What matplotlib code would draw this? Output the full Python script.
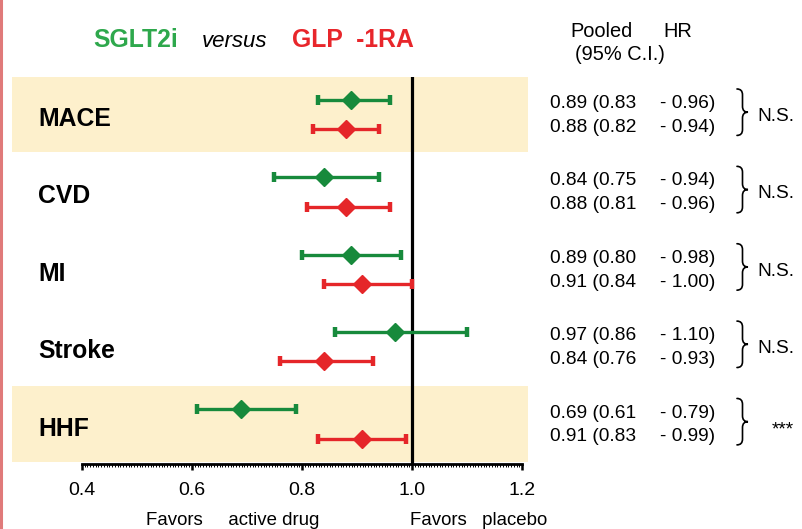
"""
Forest plot: SGLT2i versus GLP-1RA (pooled HR, 95% C.I.) por desenlace.
"""

import numpy as np
import matplotlib
matplotlib.use("Agg")
import matplotlib.pyplot as plt
from matplotlib import font_manager, transforms
from matplotlib.lines import Line2D
from matplotlib.patches import PathPatch
from matplotlib.path import Path
from matplotlib.ticker import FixedLocator


# ---------------------------------------------------------------------------
# Datos
# ---------------------------------------------------------------------------

outcomes = ["MACE", "CVD", "MI", "Stroke", "HHF"]
shaded = [True, False, False, False, True]

sglt2_hr = [0.89, 0.84, 0.89, 0.97, 0.69]
sglt2_lo = [0.83, 0.75, 0.80, 0.86, 0.61]
sglt2_hi = [0.96, 0.94, 0.98, 1.10, 0.79]

glp1_hr = [0.88, 0.88, 0.91, 0.84, 0.91]
glp1_lo = [0.82, 0.81, 0.84, 0.76, 0.83]
glp1_hi = [0.94, 0.96, 1.00, 0.93, 0.99]

significance = ["N.S.", "N.S.", "N.S.", "N.S.", "***"]

x_ticks = [0.4, 0.6, 0.8, 1.0, 1.2]
x_tick_labels = ["0.4", "0.6", "0.8", "1.0", "1.2"]


# ---------------------------------------------------------------------------
# Estilo
# ---------------------------------------------------------------------------

GREEN = "#178a3c"
RED = "#e52629"
GREEN_TITLE = "#2ea84c"
RED_TITLE = "#e8262b"
BAND = "#fdf0cc"


def _has_font(name):
    try:
        font_manager.findfont(font_manager.FontProperties(family=name),
                              fallback_to_default=False)
        return True
    except ValueError:
        return False


REG = "Liberation Sans" if _has_font("Liberation Sans") else "DejaVu Sans"
if _has_font("Liberation Sans Narrow"):
    BOLD, bold_scale = "Liberation Sans Narrow", 1.0
else:
    BOLD, bold_scale = REG, 0.87

plt.rcParams["font.family"] = [REG, "DejaVu Sans"]


def draw_brace(ax, x0, yc, half, width, lw=1.2):
    # llave "}" simple con curvas cuadráticas
    xm = x0 + width / 2.0
    r = half * 0.25
    verts = [
        (x0, yc - half),
        (xm, yc - half), (xm, yc - half + r),
        (xm, yc - r),
        (xm, yc), (x0 + width, yc),
        (xm, yc), (xm, yc + r),
        (xm, yc + half - r),
        (xm, yc + half), (x0, yc + half),
    ]
    codes = [Path.MOVETO,
             Path.CURVE3, Path.CURVE3,
             Path.LINETO,
             Path.CURVE3, Path.CURVE3,
             Path.CURVE3, Path.CURVE3,
             Path.LINETO,
             Path.CURVE3, Path.CURVE3]
    ax.add_patch(PathPatch(Path(verts, codes), fill=False, lw=lw,
                           edgecolor="black", capstyle="round"))


# ---------------------------------------------------------------------------
# Figura
# ---------------------------------------------------------------------------

W, H = 803, 529
fig = plt.figure(figsize=(W / 100, H / 100), dpi=100)

ax_bottom = (H - 464) / H
ax_height = (464 - 77) / H
ax = fig.add_axes([12 / W, ax_bottom, 516 / W, ax_height])

ylim = (4.517, -0.485)
ax.set_xlim(0.4 - 70 / 550, 1.2 + 6 / 550)
ax.set_ylim(*ylim)

rows = np.arange(len(outcomes))
off = 0.19

for i, sh in enumerate(shaded):
    if sh:
        ax.axhspan(i - 0.485, i + 0.485, color=BAND, lw=0, zorder=0)

ax.axvline(1.0, color="black", lw=2.3, zorder=2)

for hr, lo, hi, dy, col in [
    (sglt2_hr, sglt2_lo, sglt2_hi, -off, GREEN),
    (glp1_hr, glp1_lo, glp1_hi, off, RED),
]:
    hr = np.array(hr)
    ax.errorbar(hr, rows + dy,
                xerr=[hr - np.array(lo), np.array(hi) - hr],
                fmt="D", color=col, ms=8.8, elinewidth=2.4,
                capsize=3.3, capthick=3.2, zorder=3)

# etiquetas de fila
lab_tr = transforms.blended_transform_factory(ax.transAxes, ax.transData)
for i, name in enumerate(outcomes):
    ax.text(26 / 516, i + 0.15, name, transform=lab_tr,
            fontsize=20.5 * bold_scale, fontweight="bold", family=BOLD,
            ha="left", va="baseline")

# eje x
for s in ("top", "left", "right"):
    ax.spines[s].set_visible(False)
ax.spines["bottom"].set_bounds(0.4, 1.2)
ax.spines["bottom"].set_linewidth(2)
ax.set_yticks([])
ax.set_xticks(x_ticks)
ax.set_xticklabels(x_tick_labels)
ax.xaxis.set_minor_locator(FixedLocator(np.arange(0.4, 1.2001, 0.005)))
ax.tick_params(axis="x", which="major", length=4.5, width=1.8,
               pad=8.5, labelsize=14)
ax.tick_params(axis="x", which="minor", length=2, width=0.7)

# ---------------------------------------------------------------------------
# Tabla a la derecha
# ---------------------------------------------------------------------------

ax2 = fig.add_axes([528 / W, ax_bottom, (W - 528) / W, ax_height])
ax2.set_xlim(528, W)
ax2.set_ylim(*ylim)
ax2.axis("off")

for i in rows:
    for hr, lo, hi, dy in [
        (sglt2_hr[i], sglt2_lo[i], sglt2_hi[i], -0.084),
        (glp1_hr[i], glp1_lo[i], glp1_hi[i], 0.226),
    ]:
        ax2.text(550, i + dy, f"{hr:.2f} ({lo:.2f}", fontsize=13.8,
                 ha="left", va="baseline")
        ax2.text(660, i + dy, f"- {hi:.2f})", fontsize=13.8,
                 ha="left", va="baseline")
    draw_brace(ax2, 737, i - 0.03, 0.30, 11)
    if significance[i] == "***":
        ax2.text(772, i + 0.14, significance[i], fontsize=13.8,
                 ha="left", va="baseline")
    else:
        ax2.text(757, i + 0.084, significance[i], fontsize=13.8,
                 ha="left", va="baseline")

# ---------------------------------------------------------------------------
# Títulos y textos de figura
# ---------------------------------------------------------------------------

fig.text(93 / W, 1 - 47 / H, "SGLT2i", color=GREEN_TITLE,
         fontsize=20.5 * bold_scale, fontweight="bold", family=BOLD,
         ha="left", va="baseline")
fig.text(202 / W, 1 - 47 / H, "versus", color="black", fontsize=16,
         style="italic", ha="left", va="baseline")
fig.text(292 / W, 1 - 47 / H, "GLP  -1RA", color=RED_TITLE,
         fontsize=20.5 * bold_scale, fontweight="bold", family=BOLD,
         ha="left", va="baseline")

fig.text(570 / W, 1 - 37 / H, "Pooled", fontsize=14.4, ha="left", va="baseline")
fig.text(663 / W, 1 - 37 / H, "HR", fontsize=14.4, ha="left", va="baseline")
fig.text(575 / W, 1 - 60 / H, "(95% C.I.)", fontsize=14.4, ha="left",
         va="baseline")

fig.text(146 / W, 1 - 525 / H, "Favors     active drug", fontsize=13.4,
         ha="left", va="baseline")
fig.text(410 / W, 1 - 525 / H, "Favors   placebo", fontsize=13.4,
         ha="left", va="baseline")

# línea roja del borde izquierdo
fig.add_artist(Line2D([1.5 / W, 1.5 / W], [0, 1], transform=fig.transFigure,
                      color="#e07a7a", lw=2.2))

fig.savefig("out.png", dpi=100)
